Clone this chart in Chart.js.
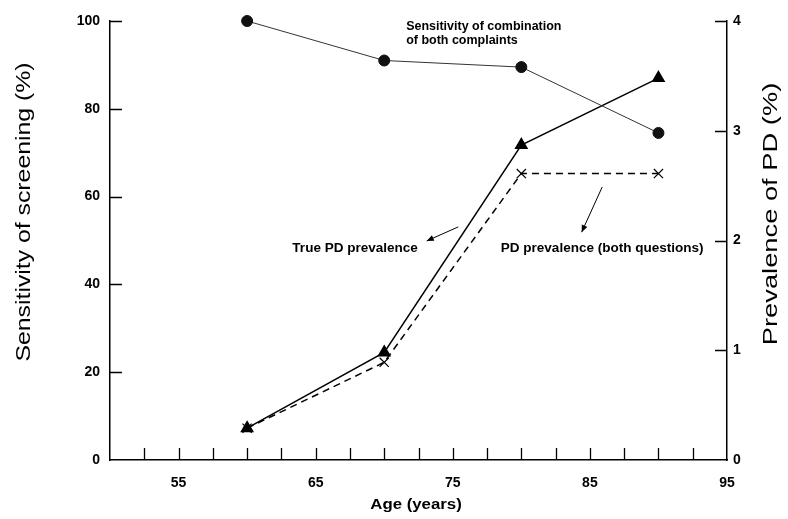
<!DOCTYPE html>
<html>
<head>
<meta charset="utf-8">
<script src="https://cdn.jsdelivr.net/npm/chart.js@4/dist/chart.umd.min.js"></script>
<style>
html,body{margin:0;padding:0;background:#fff;}
#wrap{width:788px;height:519px;position:relative;}
</style>
</head>
<body>
<div id="wrap"><canvas id="c" width="788" height="519"></canvas></div>
<script>
// ---- data ----
const ages = [60, 70, 80, 90];
const sensitivity = [100, 91, 89.5, 74.5];          // left axis (%)
const truePrevalence = [0.29, 0.98, 2.87, 3.48];     // right axis (%)
const questionPrevalence = [0.29, 0.89, 2.61, 2.61]; // right axis (%)
const xTickLabels = [55, 65, 75, 85, 95];
const xTickMarks = [52.5, 55, 57.5, 60, 62.5, 65, 67.5, 70, 72.5, 75, 77.5, 80, 82.5, 85, 87.5, 90, 92.5];
const leftTicks = [0, 20, 40, 60, 80, 100];
const rightTicks = [0, 1, 2, 3, 4];

const FONT = '"Liberation Sans", Arial, Helvetica, sans-serif';

const toXY = (ys) => ages.map((a, i) => ({x: a, y: ys[i]}));

function stretchText(ctx, text, x, y, rot, sx) {
  ctx.save();
  ctx.translate(x, y);
  if (rot) ctx.rotate(rot);
  ctx.scale(sx, 1);
  ctx.fillText(text, 0, 0);
  ctx.restore();
}

const decorPlugin = {
  id: 'decor',
  afterDraw(chart) {
    const ctx = chart.ctx;
    const xs = chart.scales.x, yl = chart.scales.yL, yr = chart.scales.yR;
    const ca = chart.chartArea;
    const TL = 12;
    ctx.save();
    ctx.strokeStyle = '#000';
    ctx.lineWidth = 1.3;
    ctx.beginPath();
    xTickMarks.forEach(v => {
      const px = Math.round(xs.getPixelForValue(v)) + 0.5;
      ctx.moveTo(px, ca.bottom); ctx.lineTo(px, ca.bottom - TL);
    });
    leftTicks.forEach(v => {
      if (v === 0) return;
      const py = Math.round(yl.getPixelForValue(v)) + 0.5;
      ctx.moveTo(ca.left, py); ctx.lineTo(ca.left + TL, py);
    });
    rightTicks.forEach(v => {
      if (v === 0) return;
      const py = Math.round(yr.getPixelForValue(v)) + 0.5;
      ctx.moveTo(ca.right, py); ctx.lineTo(ca.right - TL, py);
    });
    ctx.stroke();

    // annotations (data coordinates on x / left y)
    ctx.fillStyle = '#000';
    ctx.font = 'bold 12px ' + FONT;
    ctx.textBaseline = 'middle';
    ctx.textAlign = 'left';
    const P = (x, y) => [xs.getPixelForValue(x), yl.getPixelForValue(y)];
    let p = P(71.6, 98.6); stretchText(ctx, 'Sensitivity of combination', p[0], p[1], 0, 1.04);
    p = P(71.6, 95.6); stretchText(ctx, 'of both complaints', p[0], p[1], 0, 1.04);
    ctx.font = 'bold 13px ' + FONT;
    p = P(63.3, 48.3); stretchText(ctx, 'True PD prevalence', p[0], p[1], 0, 1.04);
    p = P(78.5, 48.3); stretchText(ctx, 'PD prevalence (both questions)', p[0], p[1], 0, 1.04);

    const arrow = (x1, y1, x2, y2) => {
      const a = P(x1, y1), b = P(x2, y2);
      ctx.beginPath();
      ctx.lineWidth = 1;
      ctx.moveTo(a[0], a[1]); ctx.lineTo(b[0], b[1]); ctx.stroke();
      const ang = Math.atan2(b[1] - a[1], b[0] - a[0]);
      const L = 7, W = 3;
      ctx.beginPath();
      ctx.moveTo(b[0], b[1]);
      ctx.lineTo(b[0] - L * Math.cos(ang) + W * Math.sin(ang), b[1] - L * Math.sin(ang) - W * Math.cos(ang));
      ctx.lineTo(b[0] - L * Math.cos(ang) - W * Math.sin(ang), b[1] - L * Math.sin(ang) + W * Math.cos(ang));
      ctx.closePath(); ctx.fill();
    };
    arrow(75.4, 53.1, 73.1, 49.9);
    arrow(85.9, 62.2, 84.4, 51.9);

    // axis titles
    ctx.textAlign = 'center';
    ctx.font = '20px ' + FONT;
    stretchText(ctx, 'Sensitivity of screening (%)', 24, 212, -Math.PI / 2, 1.24);
    ctx.font = '21px ' + FONT;
    stretchText(ctx, 'Prevalence of PD (%)', 771, 214, -Math.PI / 2, 1.3);
    ctx.font = 'bold 14px ' + FONT;
    stretchText(ctx, 'Age (years)', 416, 505, 0, 1.2);
    ctx.restore();
  }
};

new Chart(document.getElementById('c'), {
  type: 'line',
  data: {
    datasets: [
      {
        label: 'Sensitivity of combination of both complaints',
        data: toXY(sensitivity), yAxisID: 'yL',
        borderColor: '#333', borderWidth: 1,
        pointStyle: 'circle', pointRadius: 5.5,
        pointBackgroundColor: '#111', pointBorderColor: '#111',
        clip: false
      },
      {
        label: 'True PD prevalence',
        data: toXY(truePrevalence), yAxisID: 'yR',
        borderColor: '#000', borderWidth: 1.5,
        pointStyle: 'triangle', pointRadius: 6.5,
        pointBackgroundColor: '#000', pointBorderColor: '#000',
        clip: false
      },
      {
        label: 'PD prevalence (both questions)',
        data: toXY(questionPrevalence), yAxisID: 'yR',
        borderColor: '#000', borderWidth: 1.5, borderDash: [7, 5],
        pointStyle: 'crossRot', pointRadius: 6.5, pointBorderWidth: 1.2,
        pointBorderColor: '#000',
        clip: false
      }
    ]
  },
  options: {
    responsive: false, animation: false, devicePixelRatio: 1,
    layout: {padding: {top: 21, left: 0, right: 0, bottom: 0}},
    plugins: {legend: {display: false}, tooltip: {enabled: false}},
    scales: {
      x: {
        type: 'linear', min: 50, max: 95,
        afterBuildTicks: s => { s.ticks = xTickLabels.map(v => ({value: v})); },
        afterFit: s => { s.height = 59; },
        grid: {display: false, drawTicks: false},
        border: {display: true, color: '#000', width: 1.5},
        ticks: {color: '#000', font: {family: FONT, size: 14, weight: 'bold'}, padding: 15, maxRotation: 0, autoSkip: false}
      },
      yL: {
        type: 'linear', position: 'left', min: 0, max: 100,
        afterBuildTicks: s => { s.ticks = leftTicks.map(v => ({value: v})); },
        afterFit: s => { s.width = 110; },
        grid: {display: false, drawTicks: false},
        border: {display: true, color: '#000', width: 1.5},
        ticks: {color: '#000', font: {family: FONT, size: 14, weight: 'bold'}, padding: 10}
      },
      yR: {
        type: 'linear', position: 'right', min: 0, max: 4,
        afterBuildTicks: s => { s.ticks = rightTicks.map(v => ({value: v})); },
        afterFit: s => { s.width = 61; },
        grid: {display: false, drawTicks: false},
        border: {display: true, color: '#000', width: 1.5},
        ticks: {color: '#000', font: {family: FONT, size: 14, weight: 'bold'}, padding: 6}
      }
    }
  },
  plugins: [decorPlugin]
});
</script>
</body>
</html>
